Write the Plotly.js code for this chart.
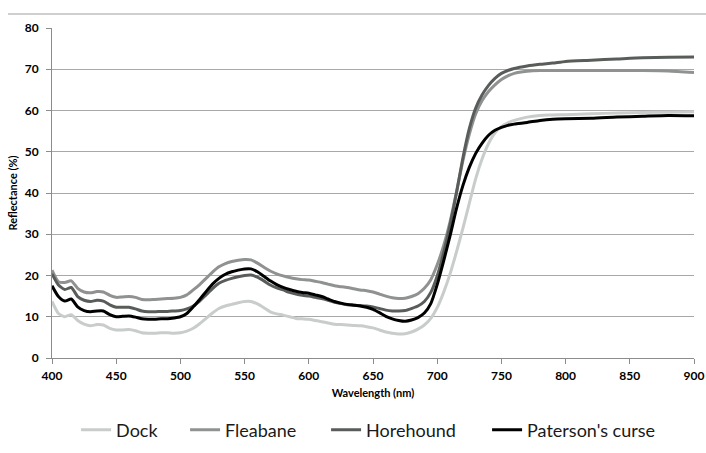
<!DOCTYPE html>
<html>
<head>
<meta charset="utf-8">
<script src="https://cdn.plot.ly/plotly-3.0.1.min.js"></script>
<style>html,body{margin:0;padding:0;background:#fff;}#chart{width:706px;height:453px;}</style>
</head>
<body>
<div id="chart"></div>
<script>
const wavelength = [400,405,410,415,420,425,430,435,440,445,450,455,460,465,470,475,480,485,490,495,500,505,510,515,520,525,530,535,540,545,550,555,560,565,570,575,580,585,590,595,600,605,610,615,620,625,630,635,640,645,650,655,660,665,670,675,680,685,690,695,700,705,710,715,720,725,730,735,740,745,750,755,760,770,780,790,800,820,840,860,880,900];

const dock = [13.7,10.8,10.0,10.5,9.1,8.2,7.8,8.1,8.0,7.2,6.8,6.8,6.9,6.6,6.1,6.0,6.0,6.1,6.1,6.0,6.1,6.5,7.2,8.3,9.6,10.9,12.0,12.6,13.0,13.4,13.7,13.7,13.1,12.2,11.2,10.7,10.4,10.0,9.6,9.5,9.4,9.1,8.8,8.5,8.2,8.1,8.0,7.9,7.8,7.6,7.3,6.8,6.3,6.0,5.8,5.9,6.3,7.0,8.0,9.6,12.2,15.9,20.4,25.7,31.4,37.5,43.5,48.3,52.0,54.6,56.1,57.0,57.6,58.4,58.8,58.9,59.0,59.2,59.4,59.5,59.6,59.7];

const fleabane = [21.3,18.5,18.3,18.7,16.9,16.0,15.8,16.1,16.0,15.2,14.7,14.8,14.9,14.7,14.2,14.1,14.2,14.3,14.4,14.5,14.7,15.3,16.5,17.8,19.3,20.8,22.1,22.9,23.4,23.7,23.9,23.8,23.0,22.0,21.1,20.4,19.9,19.5,19.2,19.0,18.9,18.6,18.3,17.9,17.5,17.3,17.1,16.8,16.5,16.3,16.0,15.5,15.0,14.6,14.4,14.5,14.9,15.6,16.9,19.0,22.6,27.2,33.0,40.2,47.8,54.2,59.2,62.4,64.6,66.2,67.5,68.4,69.0,69.5,69.7,69.7,69.7,69.7,69.7,69.7,69.6,69.2];

const horehound = [20.4,17.7,16.6,17.1,14.9,14.0,13.7,14.0,13.8,12.9,12.3,12.3,12.3,11.9,11.4,11.2,11.2,11.3,11.3,11.4,11.5,11.9,12.6,13.8,15.3,16.8,18.1,18.8,19.3,19.7,20.0,20.1,19.6,18.7,17.7,17.0,16.5,15.9,15.5,15.2,15.0,14.7,14.4,14.0,13.5,13.2,12.9,12.8,12.7,12.6,12.4,12.0,11.6,11.4,11.4,11.5,12.0,12.6,13.7,15.9,19.9,25.5,32.2,40.0,48.5,55.6,60.6,63.8,66.1,67.8,69.0,69.7,70.2,70.8,71.2,71.5,71.9,72.2,72.5,72.8,72.9,73.0];

const patersonsCurse = [17.5,14.9,13.8,14.3,12.4,11.5,11.2,11.4,11.4,10.5,10.0,10.1,10.2,9.9,9.5,9.4,9.4,9.5,9.5,9.7,10.0,10.8,12.4,14.2,16.1,17.9,19.3,20.3,20.9,21.3,21.6,21.6,20.9,19.8,18.7,17.8,17.1,16.6,16.2,15.9,15.7,15.3,14.9,14.3,13.7,13.3,13.0,12.8,12.6,12.3,11.8,11.0,10.1,9.5,9.1,8.9,9.2,9.8,10.9,13.2,17.8,23.5,29.6,36.2,41.8,46.2,49.6,52.1,54.0,55.2,55.9,56.4,56.7,57.1,57.6,57.9,58.0,58.1,58.4,58.6,58.8,58.7];

const seriesNames = ["Dock", "Fleabane", "Horehound", "Paterson's curse"];
const seriesData = [dock, fleabane, horehound, patersonsCurse];
const seriesColors = ["#c8cccb", "#8f9290", "#595d5a", "#000000"];
const legendWidths = [64, 96, 116, 130];

const traces = seriesData.map((vals, i) => ({
  x: wavelength,
  y: vals,
  name: seriesNames[i],
  type: "scatter",
  mode: "lines",
  legendwidth: legendWidths[i],
  line: {color: seriesColors[i], width: 3, shape: "spline", smoothing: 0.6}
}));

const layout = {
  width: 706,
  height: 453,
  margin: {l: 52, r: 12, t: 28, b: 95},
  paper_bgcolor: "#ffffff",
  plot_bgcolor: "#ffffff",
  font: {family: "Lato, 'Open Sans', sans-serif", color: "#000000"},
  showlegend: true,
  legend: {
    orientation: "h",
    xref: "paper", x: 0.0375, xanchor: "left",
    yref: "container", y: 0.0508, yanchor: "middle",
    font: {size: 18, color: "#1a1a1a", family: "Lato, sans-serif"},
    itemwidth: 30,
    traceorder: "normal"
  },
  xaxis: {
    range: [400, 900],
    tickvals: [400,450,500,550,600,650,700,750,800,850,900],
    ticks: "outside", ticklen: 5, tickcolor: "#8c8c8c",
    showline: true, linecolor: "#8c8c8c", linewidth: 1,
    showgrid: false, zeroline: false,
    ticklabelstandoff: 2,
    tickfont: {size: 12, family: "Lato, sans-serif", weight: "bold", color: "#000"},
    title: {text: "Wavelength (nm)", font: {size: 11, family: "Lato, sans-serif", weight: "bold", color: "#000"}, standoff: 6}
  },
  yaxis: {
    range: [0, 80],
    tickvals: [0,10,20,30,40,50,60,70,80],
    ticks: "outside", ticklen: 5, tickcolor: "#8c8c8c",
    showline: true, linecolor: "#8c8c8c", linewidth: 1,
    showgrid: true, gridcolor: "#a8a8a8", gridwidth: 1,
    zeroline: false,
    ticklabelstandoff: 5,
    tickfont: {size: 12, family: "Lato, sans-serif", weight: "bold", color: "#000"},
    title: {text: "Reflectance (%)", font: {size: 11, family: "Lato, sans-serif", weight: "bold", color: "#000"}, standoff: 4}
  },
  shapes: [{
    type: "line", xref: "paper", yref: "paper",
    x0: -0.0685, x1: 1.0187, y0: 1.0424, y1: 1.0424,
    line: {color: "#a0a0a0", width: 1}
  }]
};

Plotly.newPlot("chart", traces, layout, {staticPlot: true, displayModeBar: false});
</script>
</body>
</html>
